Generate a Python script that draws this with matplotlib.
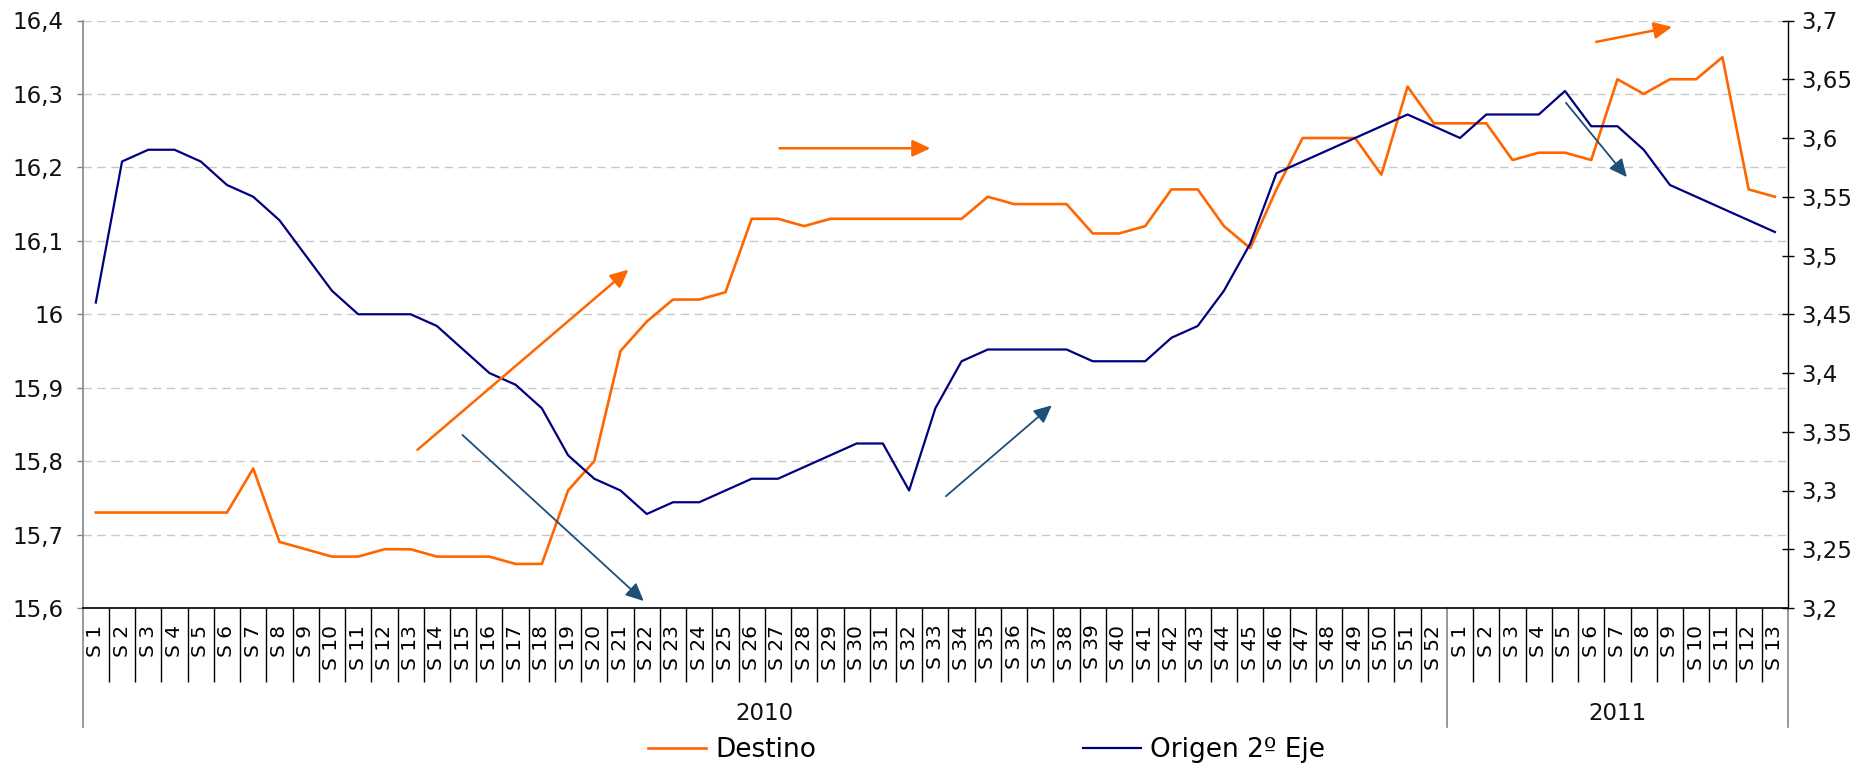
import matplotlib
matplotlib.use("Agg")
import matplotlib.pyplot as plt
from matplotlib.ticker import FixedLocator, FuncFormatter
import numpy as np

# ---------------- data ----------------
years = ["2010", "2011"]
weeks_per_year = [52, 13]

destino = [
    # 2010
    15.73, 15.73, 15.73, 15.73, 15.73, 15.73, 15.79, 15.69, 15.68, 15.67,
    15.67, 15.68, 15.68, 15.67, 15.67, 15.67, 15.66, 15.66, 15.76, 15.80,
    15.95, 15.99, 16.02, 16.02, 16.03, 16.13, 16.13, 16.12, 16.13, 16.13,
    16.13, 16.13, 16.13, 16.13, 16.16, 16.15, 16.15, 16.15, 16.11, 16.11,
    16.12, 16.17, 16.17, 16.12, 16.09, 16.17, 16.24, 16.24, 16.24, 16.19,
    16.31, 16.26,
    # 2011
    16.26, 16.26, 16.21, 16.22, 16.22, 16.21, 16.32, 16.30, 16.32, 16.32,
    16.35, 16.17, 16.16,
]

origen = [
    # 2010
    3.46, 3.58, 3.59, 3.59, 3.58, 3.56, 3.55, 3.53, 3.50, 3.47,
    3.45, 3.45, 3.45, 3.44, 3.42, 3.40, 3.39, 3.37, 3.33, 3.31,
    3.30, 3.28, 3.29, 3.29, 3.30, 3.31, 3.31, 3.32, 3.33, 3.34,
    3.34, 3.30, 3.37, 3.41, 3.42, 3.42, 3.42, 3.42, 3.41, 3.41,
    3.41, 3.43, 3.44, 3.47, 3.51, 3.57, 3.58, 3.59, 3.60, 3.61,
    3.62, 3.61,
    # 2011
    3.60, 3.62, 3.62, 3.62, 3.64, 3.61, 3.61, 3.59, 3.56, 3.55,
    3.54, 3.53, 3.52,
]

left_ticks = [15.6, 15.7, 15.8, 15.9, 16.0, 16.1, 16.2, 16.3, 16.4]
right_ticks = [3.2, 3.25, 3.3, 3.35, 3.4, 3.45, 3.5, 3.55, 3.6, 3.65, 3.7]

week_labels = [f"S {w}" for n in weeks_per_year for w in range(1, n + 1)]

# ---------------- styling ----------------
ORANGE = "#FF6600"
NAVY = "#000080"
ARROW_BLUE = "#1F4E79"
GRID = "#C8C8C8"
SPINE_GRAY = "#868686"

plt.rcParams["font.family"] = ["DejaVu Sans"]

W, H, DPI = 1862, 766, 100
fig = plt.figure(figsize=(W / DPI, H / DPI), dpi=DPI)
ax_l, ax_r, ax_t, ax_b = 82.7, 1788.0, 20.5, 608.0
ax = fig.add_axes([ax_l / W, 1 - ax_b / H, (ax_r - ax_l) / W, (ax_b - ax_t) / H])
ax2 = ax.twinx()

x = np.arange(len(week_labels))
n = len(week_labels)

l1, = ax.plot(x, destino, color=ORANGE, lw=1.9, label="Destino", zorder=3)
l2, = ax2.plot(x, origen, color=NAVY, lw=1.6, label="Origen 2º Eje", zorder=3)

ax.set_xlim(-0.5, n - 0.5)
ax.set_ylim(left_ticks[0], left_ticks[-1])
ax2.set_ylim(right_ticks[0], right_ticks[-1])

def comma(v, pos=None):
    return f"{v:g}".replace(".", ",")

ax.yaxis.set_major_locator(FixedLocator(left_ticks))
ax.yaxis.set_major_formatter(FuncFormatter(comma))
ax2.yaxis.set_major_locator(FixedLocator(right_ticks))
ax2.yaxis.set_major_formatter(FuncFormatter(comma))

ax.grid(axis="y", color=GRID, lw=1.0, linestyle=(0, (6, 4)), zorder=0)
ax.set_axisbelow(True)

ax.spines["top"].set_visible(False)
ax2.spines["top"].set_visible(False)
ax.spines["right"].set_visible(False)
ax2.spines["left"].set_visible(False)
ax2.spines["bottom"].set_visible(False)
ax.spines["left"].set_color(SPINE_GRAY)
ax.spines["left"].set_linewidth(1.2)
ax.spines["bottom"].set_color("black")
ax.spines["bottom"].set_linewidth(1.2)
ax2.spines["right"].set_color("black")
ax2.spines["right"].set_linewidth(1.0)

ax.tick_params(axis="y", direction="out", length=4.3, width=1.0, color=SPINE_GRAY,
               pad=9.5, labelsize=16.5, labelcolor="#111111")
ax2.tick_params(axis="y", direction="inout", length=9, width=1.0, color="black",
                pad=5, labelsize=16.5, labelcolor="#111111")

# category labels
ax.set_xticks(x)
ax.set_xticklabels(week_labels, rotation=90, va="top", ha="center", fontsize=14.5)
ax.tick_params(axis="x", which="major", length=0, pad=12)

# separators between categories
year_bounds = np.cumsum([0] + weeks_per_year) - 0.5
inner = [b for b in np.arange(-0.5, n, 1.0) if not np.any(np.isclose(b, year_bounds))]
ax.xaxis.set_minor_locator(FixedLocator(inner))
ax.tick_params(axis="x", which="minor", direction="out", length=53, width=1.0,
               color="black")

ax_h = ax_b - ax_t
for b in year_bounds:
    ax.axvline(b, ymin=-119 / ax_h, ymax=0, color=SPINE_GRAY, lw=1.2, clip_on=False)

start = 0
for yr, nw in zip(years, weeks_per_year):
    ax.text(start + (nw - 1) / 2, -(713 - ax_b) / ax_h, yr,
            transform=ax.get_xaxis_transform(), ha="center", va="center",
            fontsize=16.5, color="#111111")
    start += nw

# trend arrows (annotations, axes fraction)
arrows = [
    ((0.1963, 0.2693), (0.3201, 0.5760), ORANGE, 1.8),
    ((0.2227, 0.2945), (0.3290, 0.0119), ARROW_BLUE, 1.3),
    ((0.4086, 0.7825), (0.4971, 0.7825), ORANGE, 1.8),
    ((0.5062, 0.1903), (0.5683, 0.3450), ARROW_BLUE, 1.3),
    ((0.8875, 0.9636), (0.9320, 0.9891), ORANGE, 1.8),
    ((0.8698, 0.8599), (0.9055, 0.7334), ARROW_BLUE, 1.3),
]
for s, e, c, lw in arrows:
    ax2.annotate("", xy=e, xytext=s, xycoords="axes fraction", textcoords="axes fraction",
                 arrowprops=dict(arrowstyle="-|>,head_length=0.9,head_width=0.42",
                                 mutation_scale=12, color=c, lw=lw,
                                 shrinkA=0, shrinkB=0), zorder=4)

fig.legend(handles=[l1, l2], loc="center", bbox_to_anchor=(986.5 / W, 1 - 750 / H),
           ncol=2, frameon=False, fontsize=19, handlelength=2.2, handletextpad=0.35,
           columnspacing=10.1, borderpad=0, borderaxespad=0)

fig.savefig("out.png", dpi=DPI)
